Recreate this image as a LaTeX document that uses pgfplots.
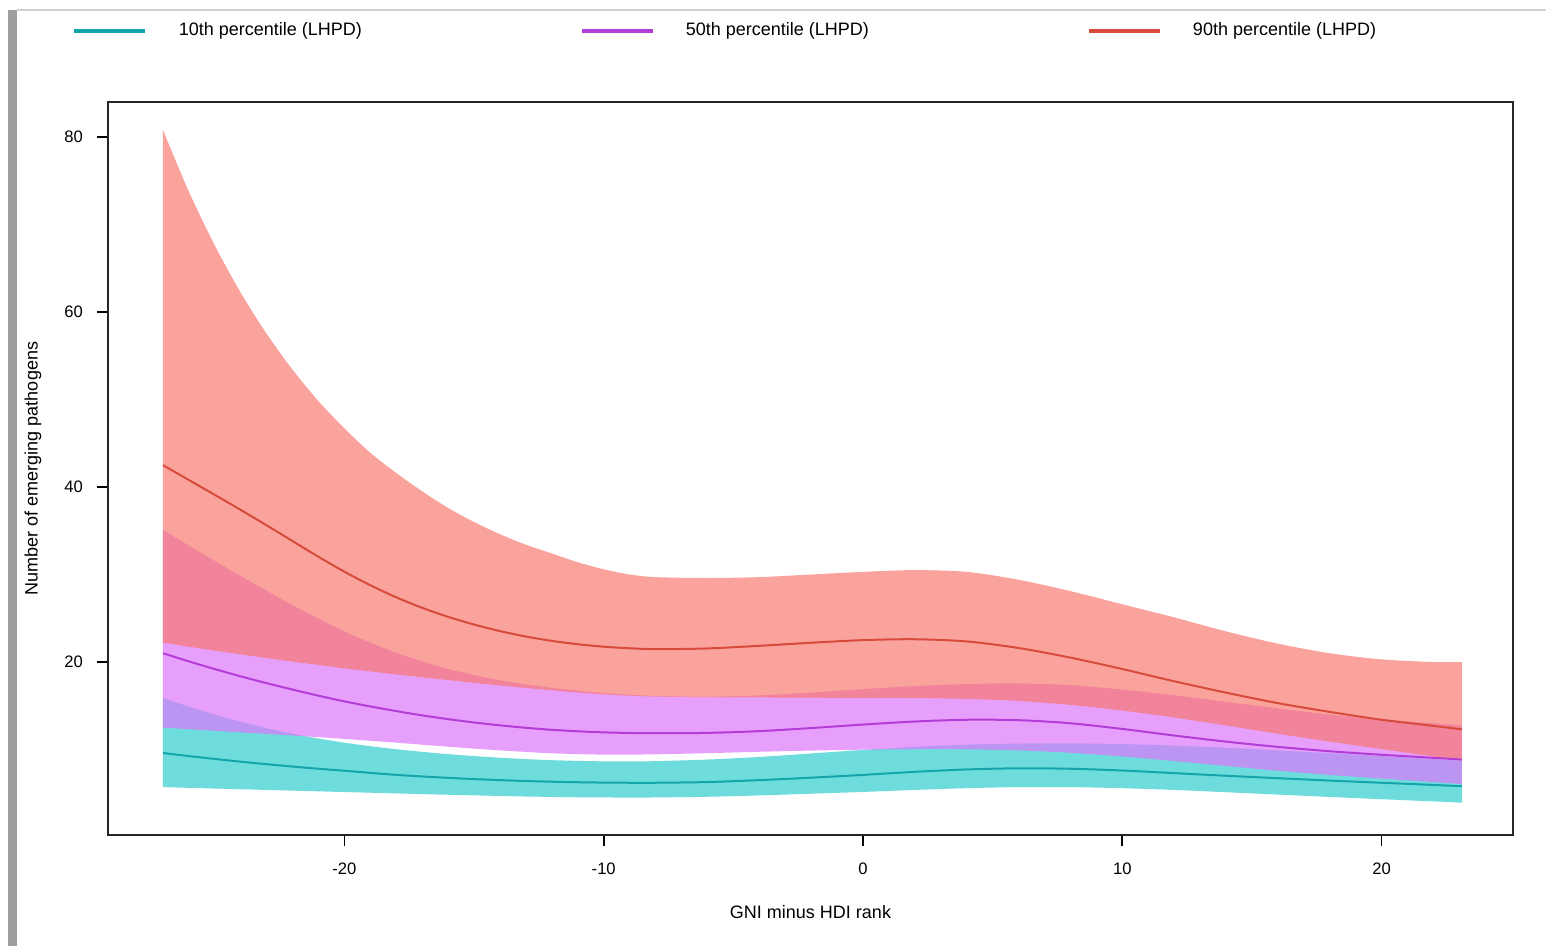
\documentclass[border=0pt]{standalone}
\usepackage{fontspec}
\setmainfont{Liberation Sans}
\usepackage{pgfplots}
\pgfplotsset{compat=1.18}
\usepackage{pgfplotstable}
\usepgfplotslibrary{fillbetween}

\definecolor{cyanB}{HTML}{00BFC4}
\definecolor{magB}{RGB}{220,120,250}
\definecolor{redB}{HTML}{F8766D}
\definecolor{cyanL}{RGB}{20,165,170}
\definecolor{magL}{RGB}{180,60,215}
\definecolor{redL}{RGB}{215,75,60}

% 90th percentile: x, upper, median, lower
\pgfplotstableread{
x     up    mid    lo
-27   80.8  42.50  22.20
-26   73.75 40.80  21.75
-25   67.6  39.10  21.30
-24   62.2  37.38  20.87
-23   57.5  35.62  20.45
-22   53.4  33.82  20.05
-21   49.8  32.02  19.66
-20   46.7  30.32  19.28
-19   43.9  28.77  18.92
-18   41.6  27.39  18.58
-17   39.5  26.19  18.25
-16   37.6  25.16  17.93
-15   36.0  24.28  17.62
-14   34.6  23.53  17.32
-13   33.4  22.91  17.03
-12   32.4  22.41  16.76
-11   31.4  22.03  16.52
-10   30.6  21.75  16.30
-9    30.0  21.57  16.15
-8    29.7  21.47  16.05
-6    29.6  21.55  15.98
-4    29.7  21.85  15.95
-2    30.0  22.20  15.92
0     30.3  22.50  15.90
2     30.5  22.60  15.88
4     30.3  22.35  15.78
6     29.4  21.60  15.55
8     28.1  20.50  15.10
10    26.6  19.20  14.45
12    25.1  17.80  13.65
14    23.5  16.50  12.75
16    22.1  15.30  11.80
18    21.0  14.30  10.90
20    20.3  13.40  10.05
22    20.0  12.70  9.20
23.1  20.0  12.30  8.75
}\redtab

% 50th percentile
\pgfplotstableread{
x     up     mid    lo
-27   35.10  21.00  12.50
-26   33.30  20.07  12.32
-25   31.54  19.19  12.14
-24   29.82  18.36  11.96
-23   28.14  17.58  11.78
-22   26.50  16.85  11.60
-21   24.95  16.15  11.41
-20   23.50  15.50  11.21
-19   22.20  14.92  11.00
-18   21.05  14.39  10.78
-17   20.05  13.90  10.55
-16   19.20  13.47  10.32
-15   18.50  13.09  10.10
-14   17.92  12.76  9.90
-13   17.44  12.48  9.72
-12   17.05  12.25  9.57
-11   16.73  12.08  9.47
-10   16.45  11.96  9.42
-9    16.25  11.89  9.42
-8    16.12  11.86  9.45
-6    16.03  11.90  9.58
-4    16.18  12.10  9.74
-2    16.50  12.45  9.88
0     16.90  12.85  9.98
2     17.25  13.20  10.03
4     17.48  13.40  10.02
6     17.55  13.35  9.90
8     17.35  13.00  9.62
10    16.85  12.35  9.20
12    16.20  11.60  8.68
14    15.45  10.90  8.12
16    14.70  10.30  7.58
18    14.00  9.80   7.10
20    13.45  9.40   6.68
22    13.00  9.05   6.28
23.1  12.75  8.85   6.05
}\magtab

% 10th percentile
\pgfplotstableread{
x     up     mid    lo
-27   15.90  9.60   5.70
-26   14.90  9.25   5.62
-25   13.99  8.92   5.54
-24   13.17  8.61   5.46
-23   12.44  8.32   5.38
-22   11.80  8.05   5.30
-21   11.25  7.80   5.22
-20   10.78  7.57   5.14
-19   10.38  7.33   5.06
-18   10.03  7.10   4.98
-17   9.73   6.92   4.90
-16   9.47   6.76   4.83
-15   9.25   6.62   4.76
-14   9.06   6.50   4.69
-13   8.90   6.40   4.63
-12   8.78   6.32   4.58
-11   8.70   6.26   4.54
-10   8.65   6.22   4.52
-9    8.64   6.20   4.51
-8    8.67   6.20   4.52
-6    8.85   6.28   4.60
-4    9.15   6.50   4.75
-2    9.55   6.78   4.95
0     9.95   7.10   5.15
2     10.30  7.45   5.38
4     10.55  7.72   5.58
6     10.68  7.85   5.70
8     10.70  7.80   5.70
10    10.62  7.60   5.58
12    10.45  7.30   5.38
14    10.20  7.00   5.12
16    9.90   6.72   4.85
18    9.58   6.45   4.58
20    9.25   6.20   4.32
22    8.90   5.95   4.07
23.1  8.70   5.80   3.92
}\cyantab

\begin{document}
\begin{tikzpicture}
\begin{axis}[
  at={(0,0)}, anchor=south west,
  width=702.5pt, height=366.5pt, scale only axis,
  xmin=-29.12, xmax=25.07, ymin=0.23, ymax=84,
  axis line style={line width=0.8pt, black!85},
  tick align=outside, major tick length=5.5pt,
  tick style={line width=0.8pt, black},
  tick pos=left,
  xtick={-20,-10,0,10,20}, ytick={20,40,60,80},
  tick label style={font=\fontsize{8.3}{10}\selectfont},
  /pgf/number format/assume math mode=true,
  label style={font=\fontsize{9}{11}\selectfont},
  xlabel={GNI minus HDI rank},
  ylabel={Number of emerging pathogens},
  xlabel style={at={(axis description cs:0.5,-0.105)}, anchor=center},
  ylabel style={at={(axis description cs:-0.0534,0.5)}, anchor=center},
  yticklabel style={xshift=-3.5pt},
  xticklabel style={yshift=-5pt},
  legend style={at={(axis description cs:-0.0256,1.0969)}, anchor=west,
    draw=none, fill=none, inner sep=0pt, font=\fontsize{9}{11}\selectfont,
    legend columns=3,
    /tikz/every odd column/.append style={column sep=13.7pt},
    /tikz/every even column/.append style={column sep=106.8pt}},
  legend image code/.code={\draw[#1, line width=2pt] (0pt,0pt) -- (35.5pt,0pt);},
]
% cyan band
\addplot[name path=cu, draw=none, smooth, forget plot] table[x=x,y=up] {\cyantab};
\addplot[name path=cl, draw=none, smooth, forget plot] table[x=x,y=lo] {\cyantab};
\addplot[fill=cyanB, fill opacity=0.57, draw=none, forget plot] fill between[of=cu and cl];
% magenta band
\addplot[name path=mu, draw=none, smooth, forget plot] table[x=x,y=up] {\magtab};
\addplot[name path=ml, draw=none, smooth, forget plot] table[x=x,y=lo] {\magtab};
\addplot[fill=magB, fill opacity=0.7, draw=none, forget plot] fill between[of=mu and ml];
% red band
\addplot[name path=ru, draw=none, smooth, forget plot] table[x=x,y=up] {\redtab};
\addplot[name path=rl, draw=none, smooth, forget plot] table[x=x,y=lo] {\redtab};
\addplot[fill=redB, fill opacity=0.68, draw=none, forget plot] fill between[of=ru and rl];
% median lines
\addplot[cyanL, line width=1pt, smooth] table[x=x,y=mid] {\cyantab};
\addlegendentry{10th percentile (LHPD)}
\addplot[magL, line width=1pt, smooth] table[x=x,y=mid] {\magtab};
\addlegendentry{50th percentile (LHPD)}
\addplot[redL, line width=1pt, smooth] table[x=x,y=mid] {\redtab};
\addlegendentry{90th percentile (LHPD)}
\end{axis}
\fill[black!38] (-49.8pt,-55.5pt) rectangle (-45.6pt,412.5pt);
\draw[black!18, line width=0.6pt] (-45.6pt,412.5pt) -- (719pt,412.5pt);
\pgfresetboundingbox
\path[use as bounding box] (-54pt,-55.5pt) rectangle (719pt,417.5pt);
\end{tikzpicture}
\end{document}
